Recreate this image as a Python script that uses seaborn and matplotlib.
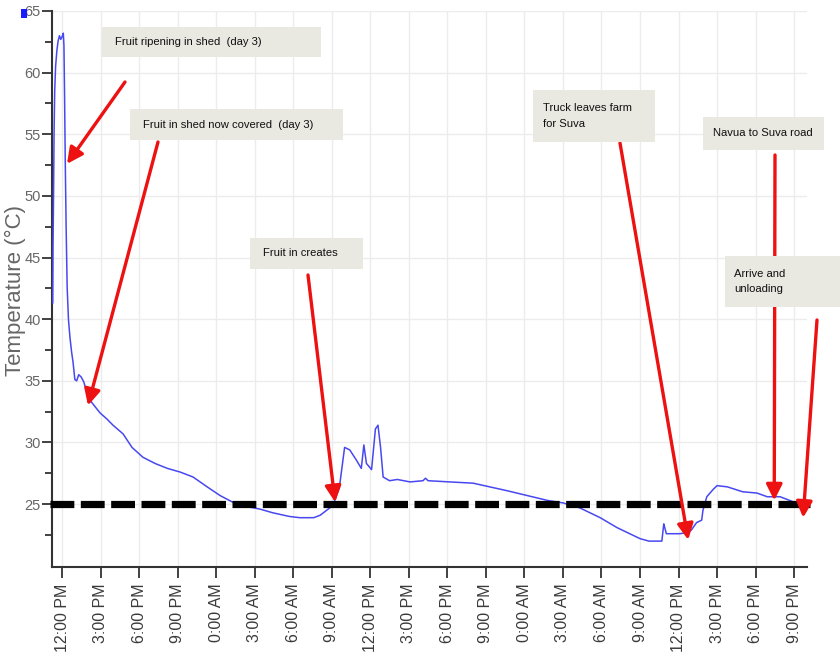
import matplotlib
matplotlib.use("Agg")
import matplotlib.pyplot as plt
import matplotlib.patches as mpatches
import numpy as np
import pandas as pd
import seaborn as sns

# ---- data -------------------------------------------------------------
hours = [-0.72, -0.70, -0.66, -0.62, -0.57, -0.50, -0.40, -0.30, -0.20, -0.10,
         0.00, 0.10, 0.15, 0.20, 0.25, 0.32, 0.40, 0.50, 0.62, 0.75,
         0.86, 1.00, 1.14, 1.30, 1.50, 1.70, 2.05, 2.50, 2.96, 3.50,
         3.97, 4.75, 5.45, 6.30, 7.24, 8.20, 9.20, 10.20, 11.30, 12.30,
         13.30, 14.40, 15.40, 16.40, 17.70, 18.50, 19.60, 20.10, 20.60, 21.10,
         21.60, 22.00, 22.40, 22.90, 23.30, 23.50, 23.70, 24.10, 24.40, 24.60,
         24.80, 25.00, 25.50, 26.10, 27.10, 28.10, 28.30, 28.50, 30.20, 32.00,
         33.30, 34.60, 36.20, 37.80, 39.00, 40.30, 41.90, 43.20, 44.20, 45.00,
         45.70, 46.70, 46.85, 46.90, 47.05, 48.10, 48.70, 49.00, 49.40, 49.80,
         49.90, 50.20, 50.70, 51.00, 51.80, 53.00, 54.10, 54.90, 55.90, 56.90,
         58.00]
temps = [41.3, 46.0, 50.0, 55.0, 58.5, 60.5, 61.8, 62.6, 63.0, 62.7,
         62.9, 63.2, 62.2, 58.0, 53.0, 47.5, 42.6, 40.0, 38.5, 37.3,
         36.5, 35.1, 35.0, 35.5, 35.3, 34.9, 33.6, 33.0, 32.4, 31.9,
         31.4, 30.7, 29.6, 28.8, 28.3, 27.9, 27.6, 27.2, 26.4, 25.7,
         25.15, 24.8, 24.6, 24.3, 24.0, 23.9, 23.9, 24.1, 24.5, 24.9,
         26.4, 29.6, 29.4, 28.6, 27.9, 29.8, 28.3, 27.8, 31.1, 31.4,
         29.6, 27.2, 26.9, 27.0, 26.8, 26.9, 27.1, 26.9, 26.8, 26.7,
         26.4, 26.1, 25.7, 25.3, 25.1, 24.7, 23.9, 23.1, 22.6, 22.2,
         22.0, 22.0, 23.4, 23.2, 22.6, 22.6, 22.7, 22.9, 23.5, 23.7,
         24.5, 25.6, 26.2, 26.5, 26.4, 26.0, 25.9, 25.6, 25.6, 25.2,
         25.0]

tick_hours = [0, 3, 6, 9, 12, 15, 18, 21, 24, 27, 30, 33, 36, 39, 42, 45, 48, 51, 54, 57]
tick_labels = ["12:00 PM", "3:00 PM", "6:00 PM", "9:00 PM", "0:00 AM", "3:00 AM",
               "6:00 AM", "9:00 AM", "12:00 PM", "3:00 PM", "6:00 PM", "9:00 PM",
               "0:00 AM", "3:00 AM", "6:00 AM", "9:00 AM", "12:00 PM", "3:00 PM",
               "6:00 PM", "9:00 PM"]
y_ticks = [25, 30, 35, 40, 45, 50, 55, 60, 65]
threshold = 25

annot_texts = ["Fruit ripening in shed  (day 3)",
               "Fruit in shed now covered  (day 3)",
               "Fruit in creates",
               "Truck leaves farm\nfor Suva",
               "Navua to Suva road",
               "Arrive and\nunloading"]
annot_tip_hours = [0.39, 2.02, 21.26, 48.75, 55.45, 57.7]
annot_tip_temps = [52.6, 33.0, 25.16, 22.1, 25.3, 23.9]

# ---- figure -----------------------------------------------------------
sns.set_theme(style="white")
plt.rcParams["font.family"] = ["Liberation Sans", "DejaVu Sans"]

W, H = 840, 664
fig = plt.figure(figsize=(W / 100, H / 100), dpi=100)
ax_left, ax_right, ax_bottom, ax_top = 52, 807, 567, 11
ax = fig.add_axes([ax_left / W, 1 - ax_bottom / H, (ax_right - ax_left) / W,
                   (ax_bottom - ax_top) / H])

df = pd.DataFrame({"hour": hours, "temp": temps})
sns.lineplot(data=df, x="hour", y="temp", ax=ax, color="#4848f0", lw=1.1,
             sort=False, estimator=None, zorder=3)

ax.set_xlim(-0.78, 58.0)
ax.set_ylim(19.9, 65.0)

ax.axhline(threshold, color="black", lw=5.2, ls=(0, (3.3, 0.9)),
           dash_capstyle="butt", zorder=4, xmin=-0.003, xmax=1.004, clip_on=False)

# ticks and grid
ax.set_xticks(tick_hours)
ax.set_xticklabels(tick_labels, rotation=90, fontsize=11.5, color="#3a3a3a")
ax.set_yticks(y_ticks)
ax.set_yticks(np.arange(22.5, 65, 5), minor=True)
ax.set_yticklabels([str(v) for v in y_ticks], fontsize=10.5, color="#666666")
ax.grid(True, which="major", color="#ececec", lw=1.0)
ax.tick_params(axis="x", which="major", direction="out", length=8, width=1.3,
               color="#333333", bottom=True, pad=4)
ax.tick_params(axis="y", which="major", direction="out", length=7, width=1.3,
               color="#333333", left=True, pad=1)
ax.tick_params(axis="y", which="minor", direction="out", length=5, width=1.3,
               color="#333333", left=True)

for s in ["top", "right"]:
    ax.spines[s].set_visible(False)
for s in ["left", "bottom"]:
    ax.spines[s].set_color("#333333")
    ax.spines[s].set_linewidth(1.5)

ax.set_xlabel("")
ax.set_ylabel("Temperature (°C)", fontsize=16, color="#666666", labelpad=0)
ax.yaxis.set_label_coords((26 - ax_left) / (ax_right - ax_left),
                          (ax_bottom - 291) / (ax_bottom - ax_top))

# ---- annotation boxes (figure pixel layout, image y from top) -----------
boxes = [(102, 27, 321, 57), (130, 109, 343, 140), (250, 238, 363, 269),
         (533, 90, 655, 142), (703, 117, 824, 150), (725, 256, 842, 307)]
text_x = [115, 143, 263, 543, 713, 734]
arrow_starts = [(125, 82), (158, 142), (308, 275), (620, 143), (775, 155), (817, 320)]
box_color = "#e9e8e1"

for (sx, sy), th, tt in zip(arrow_starts, annot_tip_hours, annot_tip_temps):
    ax.annotate("", xy=(th, tt), xycoords="data",
                xytext=(sx, H - sy), textcoords="figure pixels",
                arrowprops=dict(arrowstyle="-|>,head_length=0.8,head_width=0.4",
                                color="#ee1111", lw=2.4, shrinkA=0, shrinkB=0),
                zorder=6, annotation_clip=False)

for (x0, y0, x1, y1), tx, txt in zip(boxes, text_x, annot_texts):
    rect = mpatches.Rectangle((x0 / W, 1 - y1 / H), (x1 - x0) / W, (y1 - y0) / H,
                              transform=fig.transFigure, facecolor=box_color,
                              edgecolor="none", zorder=7)
    fig.add_artist(rect)
    fig.text(tx / W, 1 - ((y0 + y1) / 2) / H, txt, transform=fig.transFigure,
             ha="left", va="center", fontsize=8.1, color="#111111", linespacing=1.7,
             zorder=8)

# small legend marker remnant at top-left
fig.add_artist(mpatches.Rectangle((21 / W, 1 - 18 / H), 6 / W, 9 / H,
                                  transform=fig.transFigure, facecolor="#1a1aff",
                                  edgecolor="none"))

fig.savefig("out.png", dpi=100)
